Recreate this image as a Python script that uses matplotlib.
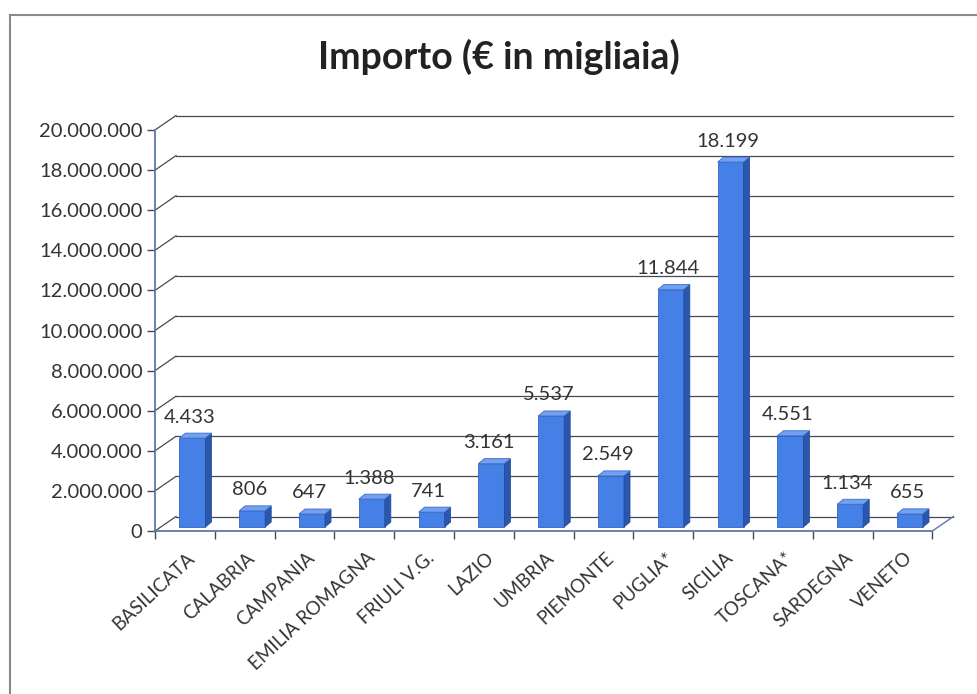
import matplotlib.pyplot as plt
from matplotlib.patches import Polygon
from matplotlib.lines import Line2D

# importi per regione, in migliaia di euro
regioni = ['BASILICATA', 'CALABRIA', 'CAMPANIA', 'EMILIA ROMAGNA', 'FRIULI V.G.',
           'LAZIO', 'UMBRIA', 'PIEMONTE', 'PUGLIA*', 'SICILIA', 'TOSCANA*',
           'SARDEGNA', 'VENETO']
importi = [4433, 806, 647, 1388, 741, 3161, 5537, 2549, 11844, 18199, 4551, 1134, 655]
tick_y = [0, 2000000, 4000000, 6000000, 8000000, 10000000, 12000000,
          14000000, 16000000, 18000000, 20000000]


def punti(n):
    return f"{n:,}".replace(',', '.')


plt.rcParams['font.family'] = ['Lato', 'DejaVu Sans']

W, H = 978, 694
fig = plt.figure(figsize=(W / 100, H / 100), dpi=100)

# geometria in pixel dell'area del grafico
x0, cat_px = 155, 59.8
y0, px_per_m = 531, 20.05
n = len(regioni)
xmax = 13.4
ymax = 20.8e6
ax = fig.add_axes([x0 / W, (H - y0) / H, xmax * cat_px / W,
                   ymax / 1e6 * px_per_m / H])
ax.set_xlim(0, xmax)
ax.set_ylim(0, ymax)
for s in ax.spines.values():
    s.set_visible(False)

# profondita' della "scatola" 3D
DX = 21 / cat_px
DY = 14.5 / px_per_m * 1e6
grid_col = '#45485a'
axis_col = '#5f77a8'

for v in tick_y:
    ax.plot([DX, n + DX], [v + DY, v + DY], color=grid_col, lw=0.9, zorder=1, clip_on=False)
    ax.plot([0, DX], [v, v + DY], color=grid_col, lw=0.9, zorder=1, clip_on=False)
# pavimento e assi frontali
ax.plot([n, n + DX], [0, DY], color=axis_col, lw=1.0, zorder=1, clip_on=False)
ax.plot([0, n], [0, 0], color=axis_col, lw=1.3, zorder=2, clip_on=False)
ax.plot([0, 0], [0, tick_y[-1]], color=axis_col, lw=1.3, zorder=2, clip_on=False)

# barre con faccia frontale, laterale e superiore
bw = 26 / cat_px
sx = 7.5 / cat_px
sy = 4 / px_per_m * 1e6
bdx = 6 / cat_px
bdy = 5 / px_per_m * 1e6
front, side, top = '#4580e6', '#2a57ad', '#72a0f2'
for i, imp in enumerate(importi):
    v = imp * 1000
    xl = i + 0.5 - bw / 2 + sx
    xr = xl + bw
    yb, yt = sy, sy + v
    ax.add_patch(Polygon([(xl, yb), (xr, yb), (xr, yt), (xl, yt)],
                         closed=True, fc=front, ec='#3464bd', lw=0.6, zorder=3))
    ax.add_patch(Polygon([(xr, yb), (xr + bdx, yb + bdy), (xr + bdx, yt + bdy), (xr, yt)],
                         closed=True, fc=side, ec='#244c98', lw=0.6, zorder=3))
    ax.add_patch(Polygon([(xl, yt), (xr, yt), (xr + bdx, yt + bdy), (xl + bdx, yt + bdy)],
                         closed=True, fc=top, ec='#3a6cc8', lw=0.6, zorder=3))
    ax.text(i + 0.5 + sx - 0.05, yt + 1.05e6, punti(imp), ha='center', va='center',
            fontsize=14.5, color='#333333', zorder=4)

ax.set_yticks(tick_y)
ax.set_yticklabels([punti(t) for t in tick_y], fontsize=14.5, color='#333333')
ax.tick_params(axis='y', length=6, width=1.0, color=grid_col, pad=3)

ax.set_xticks(range(n + 1))
ax.set_xticklabels([])
ax.tick_params(axis='x', which='major', length=6, width=1.0, color=grid_col)
ax.set_xticks([i + 0.5 + 0.03 for i in range(n)], minor=True)
ax.set_xticklabels(regioni, minor=True, rotation=43, ha='right', va='top',
                   rotation_mode='anchor', fontsize=13.5, color='#333333')
ax.tick_params(axis='x', which='minor', length=0, pad=13)

fig.text(499 / W, 1 - 57 / H, 'Importo (€ in migliaia)', ha='center', va='center',
         fontsize=27, fontweight='bold', color='#222222')

# cornice del grafico
fig.add_artist(Line2D([10 / W, 1], [1 - 15 / H, 1 - 15 / H], color='#8a8a8a', lw=1.5))
fig.add_artist(Line2D([10 / W, 10 / W], [0, 1 - 15 / H], color='#8a8a8a', lw=1.5))

fig.savefig('out.png', dpi=100)
